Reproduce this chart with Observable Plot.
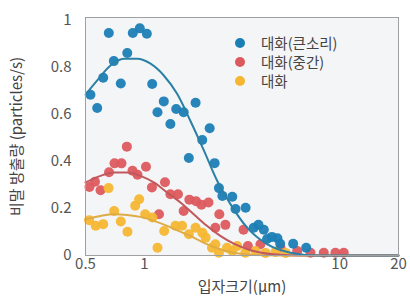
<!DOCTYPE html>
<html><head><meta charset="utf-8">
<script src="https://cdn.jsdelivr.net/npm/d3@7"></script>
<script src="https://cdn.jsdelivr.net/npm/@observablehq/plot@0.6"></script>
<style>
body{margin:0;background:#fff;font-family:"Noto Sans CJK KR","Noto Sans",sans-serif;}
#wrap{position:relative;width:410px;height:299px;}
#legend{position:absolute;left:235px;top:33px;font-size:14.5px;color:#444;line-height:19px;}
#legend .row{display:flex;align-items:center;height:19px;}
#legend .sw{width:10px;height:10px;border-radius:50%;margin-right:16px;}
</style></head>
<body><div id="wrap"><div id="legend"></div></div>
<script>
const seriesNames = ["대화(큰소리)", "대화(중간)", "대화"];
const seriesColors = ["#1b7eb5", "#dc5a5e", "#f5b631"];
const curveColors = ["#2b80a6", "#c0585c", "#dfab45"];
const xTicks = [0.5, 1, 10, 20];
const yTicks = [0, 0.2, 0.4, 0.6, 0.8, 1];
const xTitle = "입자크기(μm)";
const yTitle = "비말 방출량 (particles/s)";

// 대화(큰소리) points
const loudX = [0.53,0.574,0.616,0.658,0.698,0.758,0.818,0.873,0.948,1.03,1.097,1.168,1.258,1.36,1.456,1.59,1.83,1.69,1.98,2.16,2.29,2.41,2.51,2.82,2.93,3.30,3.63,3.84,4.09,4.25,4.5,4.8,4.96,5.78,6.74];
const loudY = [0.682,0.626,0.754,0.944,0.825,0.730,0.859,0.944,0.964,0.941,0.728,0.608,0.654,0.558,0.622,0.608,0.648,0.414,0.49,0.54,0.392,0.286,0.253,0.249,0.197,0.203,0.118,0.13,0.109,0.07,0.079,0.073,0.05,0.05,0.033];
// 대화(중간) points
const midX = [0.524,0.559,0.597,0.660,0.704,0.764,0.814,0.870,0.923,1.02,1.094,1.189,1.276,1.36,1.487,1.59,1.70,1.84,1.96,2.13,2.31,2.42,2.60,3.22,3.39,3.93,4.98,6.06,7.09,8.29,9.51,10.49];
const midY = [0.291,0.313,0.277,0.353,0.391,0.391,0.462,0.36,0.343,0.377,0.289,0.175,0.311,0.26,0.26,0.189,0.237,0.23,0.215,0.225,0.118,0.175,0.13,0.109,0.04,0.048,0.033,0.019,0.012,0.012,0.012,0.012];
// 대화 points
const talkX = [0.522,0.564,0.616,0.656,0.701,0.758,0.820,0.898,0.941,1.01,1.10,1.168,1.264,1.444,1.56,1.69,1.83,1.98,2.06,2.22,2.31,2.41,2.65,2.82,2.99,3.29,3.71,4.17,4.69,5.28];
const talkY = [0.15,0.126,0.133,0.286,0.189,0.144,0.101,0.211,0.239,0.175,0.161,0.033,0.104,0.126,0.126,0.09,0.118,0.097,0.076,0.033,0.048,0.012,0.033,0.019,0.04,0.012,0.019,0.011,0.015,0.011];

// fitted curves
const loudFitX = [0.5,0.574,0.671,0.785,0.919,1.076,1.258,1.472,1.72,2.02,2.36,2.76,3.36,4.25,5.6,7.67,20];
const loudFitY = [0.682,0.743,0.806,0.835,0.835,0.814,0.764,0.686,0.572,0.445,0.317,0.218,0.118,0.048,0.012,0.0,0.0];
const midFitX = [0.5,0.597,0.698,0.818,0.955,1.118,1.31,1.53,1.79,2.09,2.45,2.87,3.5,4.6,6.5,20];
const midFitY = [0.31,0.338,0.352,0.352,0.338,0.31,0.267,0.225,0.175,0.126,0.083,0.05,0.022,0.005,0.0,0.0];
const talkFitX = [0.5,0.597,0.698,0.818,0.955,1.118,1.31,1.53,1.79,2.09,2.45,2.87,3.63,5,20];
const talkFitY = [0.154,0.168,0.175,0.172,0.164,0.147,0.126,0.101,0.076,0.048,0.026,0.012,0.002,0.0,0.0];

const pts = [[loudX,loudY],[midX,midY],[talkX,talkY]];
const fits = [[loudFitX,loudFitY],[midFitX,midFitY],[talkFitX,talkFitY]];
const toRows = (xs, ys, i) => xs.map((x, j) => ({x, y: ys[j], s: seriesNames[i]}));

const drawOrder = [1, 2, 0];
const marks = [
  Plot.frame({fill: "#f4f5f7", stroke: "none"}),
  ...drawOrder.map(i => Plot.dot(toRows(pts[i][0], pts[i][1], i), {x: "x", y: "y", r: 5, fill: seriesColors[i], fillOpacity: 0.95})),
  ...[2, 1, 0].map(i => Plot.line(toRows(fits[i][0], fits[i][1], i), {x: "x", y: "y", stroke: curveColors[i], strokeWidth: 2, curve: "monotone-x"})),
  Plot.frame({stroke: "#a0a0a0", strokeWidth: 1}),
  Plot.text(xTicks, {x: d => d, frameAnchor: "bottom", dy: 13, text: d => String(d), fontSize: 15, fill: "#555"}),
  Plot.axisY(yTicks, {tickSize: 0, tickPadding: 14, tickFormat: d => String(d), fontSize: 15, fill: "#555", label: null}),
  Plot.text([xTitle], {frameAnchor: "bottom", dy: 36, text: d => d, fontSize: 15, fill: "#444"}),
  Plot.text([yTitle], {frameAnchor: "left", dx: -68, rotate: -90, textAnchor: "middle", text: d => d, fontSize: 15, fill: "#444"})
];

const chart = Plot.plot({
  width: 410, height: 299,
  marginLeft: 85, marginRight: 12, marginTop: 17, marginBottom: 44,
  x: {type: "log", domain: [0.5, 20], axis: null},
  y: {domain: [0, 1.01]},
  style: {fontFamily: '"Noto Sans CJK KR","Noto Sans",sans-serif', background: "transparent"},
  marks
});
document.getElementById("wrap").prepend(chart);

const lg = document.getElementById("legend");
seriesNames.forEach((n, i) => {
  const row = document.createElement("div"); row.className = "row";
  const sw = document.createElement("span"); sw.className = "sw"; sw.style.background = seriesColors[i];
  const t = document.createElement("span"); t.textContent = n;
  row.append(sw, t); lg.append(row);
});
</script></body></html>
